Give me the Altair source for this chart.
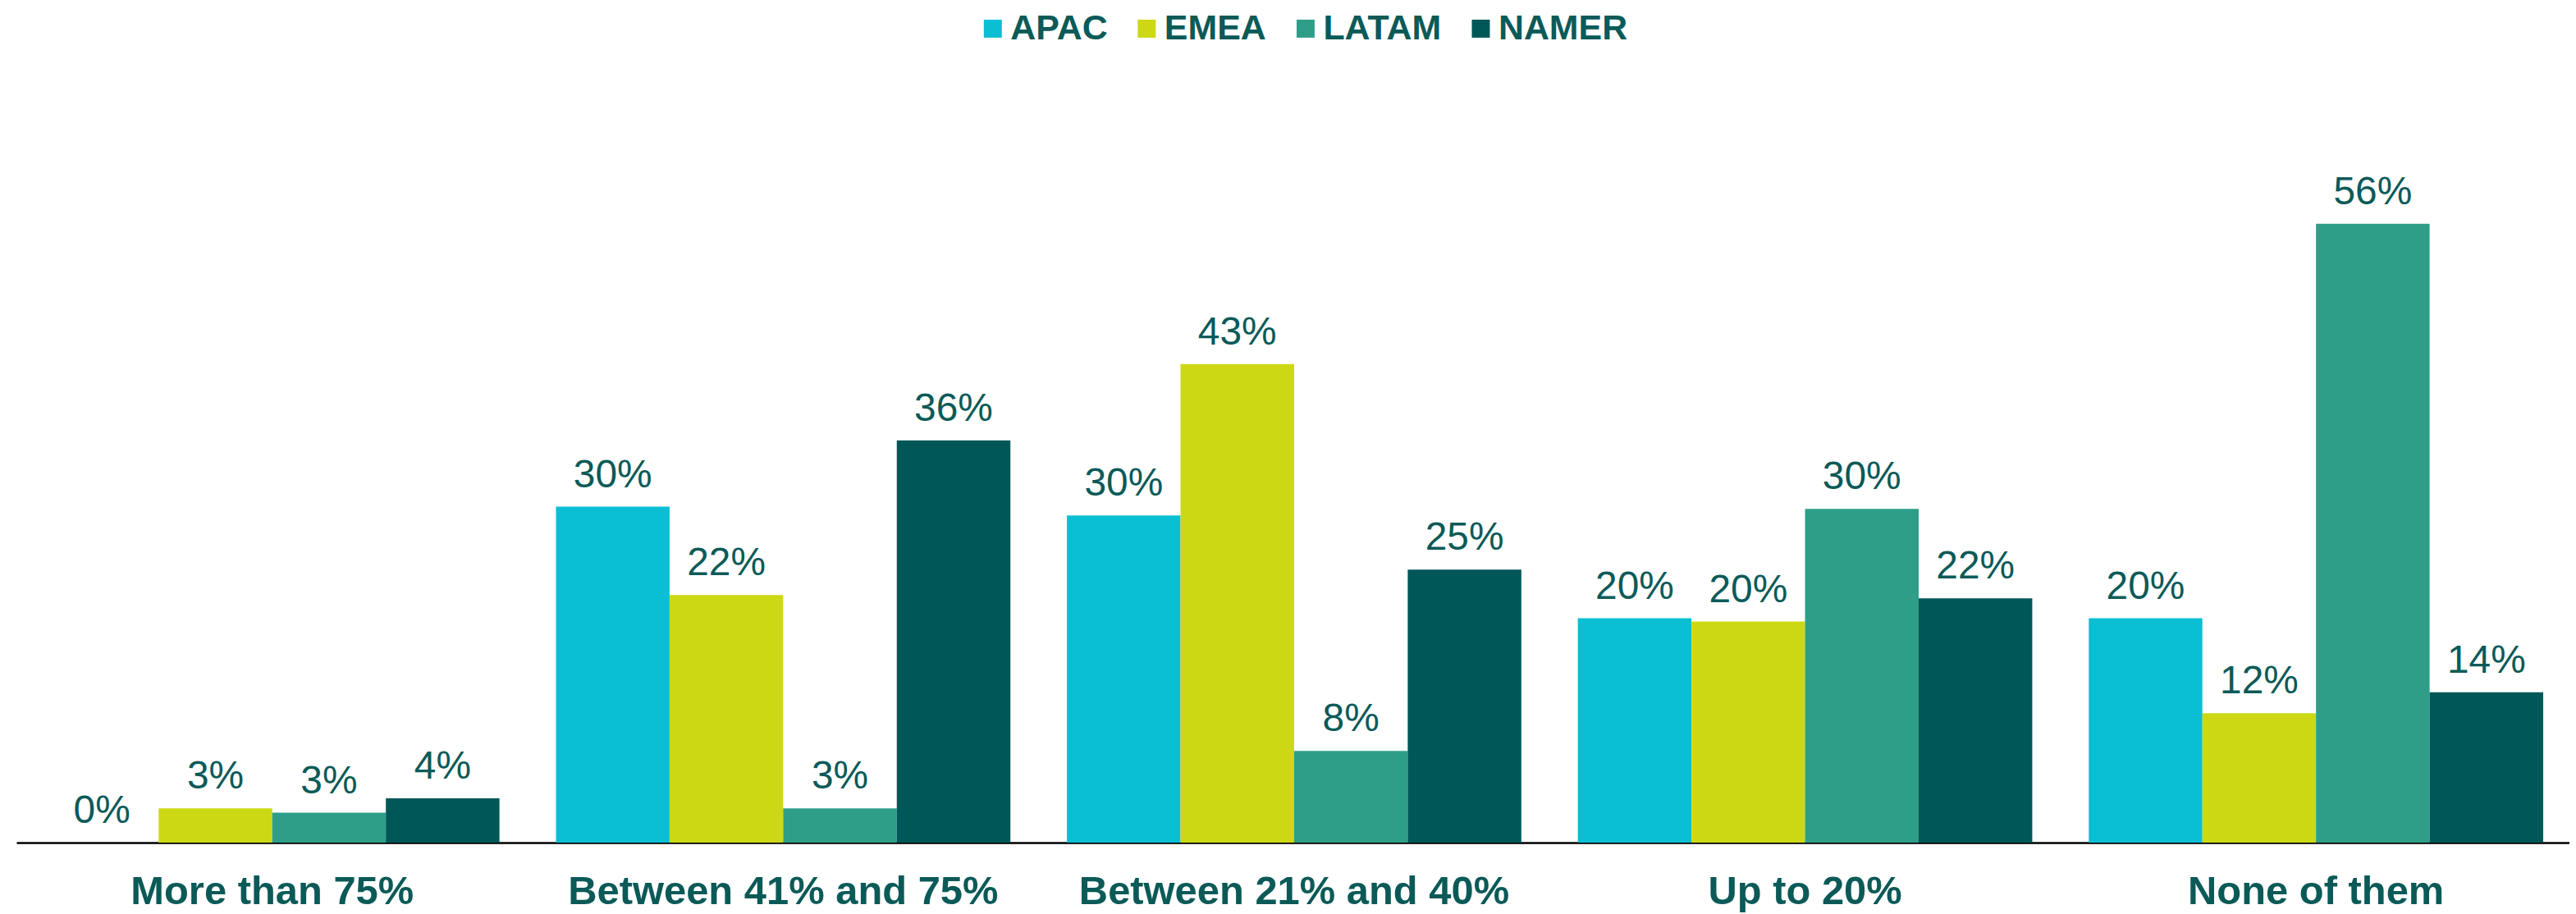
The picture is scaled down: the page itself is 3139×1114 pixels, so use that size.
import altair as alt
import pandas as pd

categories = ["More than 75%", "Between 41% and 75%", "Between 21% and 40%", "Up to 20%", "None of them"]
regions = ["APAC", "EMEA", "LATAM", "NAMER"]
apac = [0.0, 30.4, 29.6, 20.3, 20.3]
emea = [3.1, 22.4, 43.3, 20.0, 11.7]
latam = [2.7, 3.1, 8.3, 30.2, 56.0]
namer = [4.0, 36.4, 24.7, 22.1, 13.6]
colors = ["#0ABFD4", "#CDD814", "#2E9E88", "#005757"]
teal = "#0B5A58"

rows = []
for r, vals in zip(regions, [apac, emea, latam, namer]):
    for c, v in zip(categories, vals):
        rows.append({"category": c, "region": r, "value": v, "label": f"{round(v)}%"})
df = pd.DataFrame(rows)

base = alt.Chart(df).encode(
    x=alt.X(
        "category:N",
        sort=categories,
        scale=alt.Scale(paddingInner=0.1106, paddingOuter=0.0537, align=0.522),
        axis=alt.Axis(
            title=None, labelAngle=0, ticks=False, tickSize=0, labelPadding=75,
            labelBaseline="alphabetic", labelFont="Liberation Sans", labelFontWeight="bold",
            labelFontSize=49, labelColor=teal, domainColor="black", domainWidth=2.5,
            grid=False, labelLimit=0,
        ),
    ),
    xOffset=alt.XOffset("region:N", sort=regions, scale=alt.Scale(paddingInner=0, paddingOuter=0)),
    y=alt.Y("value:Q", scale=alt.Scale(domain=[0, 70], nice=False), axis=None),
)

bars = base.mark_bar().encode(
    color=alt.Color(
        "region:N",
        sort=regions,
        scale=alt.Scale(domain=regions, range=colors),
        legend=alt.Legend(
            title=None, orient="none", legendX=1171, legendY=-71, direction="horizontal",
            columns=4, symbolType="square", symbolSize=484, symbolStrokeWidth=0,
            labelFont="Liberation Sans", labelFontWeight="bold", labelFontSize=43,
            labelColor=teal, labelOffset=0, columnPadding=26, padding=0, labelLimit=0,
        ),
    )
)

text = base.mark_text(
    baseline="alphabetic", dy=-24, font="Liberation Sans", fontSize=48, color=teal
).encode(text="label:N")

chart = (bars + text).properties(
    width=3118,
    height=945,
    padding={"left": 12, "top": 75, "right": 0, "bottom": 86},
    autosize=alt.AutoSizeParams(type="none"),
).configure_view(stroke=None)

chart.save("out.html", embed_options={"renderer": "svg", "actions": False})
